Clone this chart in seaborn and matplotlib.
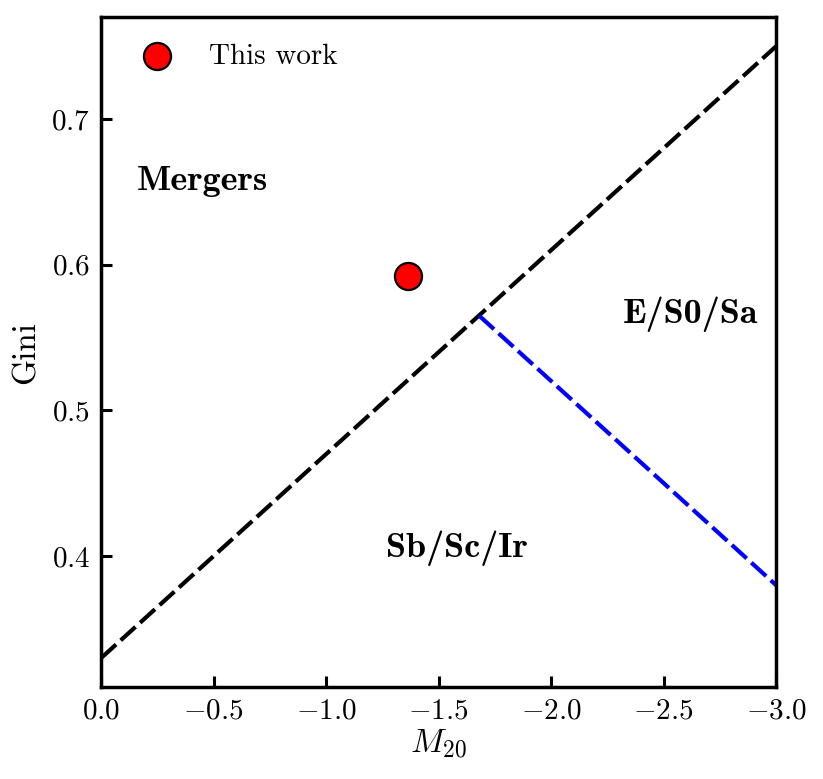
import numpy as np
import pandas as pd
import matplotlib
matplotlib.use("Agg")
import matplotlib.pyplot as plt
from matplotlib.ticker import FuncFormatter, MultipleLocator
import seaborn as sns

# merger line: G = -0.14 M20 + 0.33 ; E/S0/Sa vs Sb/Sc/Ir: G = 0.14 M20 + 0.80
merger_m20 = [0.0, -3.0]
merger_gini = [0.33, 0.75]
class_m20 = [-1.68, -3.0]
class_gini = [0.565, 0.38]

# this work
obj_m20 = [-1.364]
obj_gini = [0.592]

region_names = ["Mergers", "E/S0/Sa", "Sb/Sc/Ir"]
region_x = [-0.45, -2.62, -1.58]
region_y = [0.657, 0.566, 0.405]

sns.set_style("ticks")
plt.rcParams["mathtext.fontset"] = "cm"
plt.rcParams["font.family"] = ["cmr10", "DejaVu Serif"]
plt.rcParams["text.color"] = "black"
plt.rcParams["axes.labelcolor"] = "black"
plt.rcParams["xtick.color"] = "black"
plt.rcParams["ytick.color"] = "black"
plt.rcParams["axes.edgecolor"] = "black"

fig, ax = plt.subplots(figsize=(8.23, 7.79), dpi=100)
fig.subplots_adjust(left=0.123, right=0.943, top=0.978, bottom=0.118)

dash = (0, (4.8, 1.5))
sns.lineplot(x=merger_m20, y=merger_gini, ax=ax, color="black", lw=3.0,
             linestyle=dash, sort=False)
sns.lineplot(x=class_m20, y=class_gini, ax=ax, color="blue", lw=3.0,
             linestyle=dash, sort=False)
sns.scatterplot(x=obj_m20, y=obj_gini, ax=ax, s=380, color="red",
                edgecolor="black", linewidth=1.6, label="This work",
                zorder=5)

for name, x, y in zip(region_names, region_x, region_y):
    ax.text(x, y, name, fontsize=26, ha="center", va="center",
            family=["cmb10", "DejaVu Serif"])

ax.set_xlim(0, -3)
ax.set_ylim(0.31, 0.77)
ax.xaxis.set_major_locator(MultipleLocator(0.5))
ax.yaxis.set_major_locator(MultipleLocator(0.1))
ax.xaxis.set_major_formatter(FuncFormatter(lambda v, p: f"${v:.1f}$"))
ax.yaxis.set_major_formatter(FuncFormatter(lambda v, p: f"${v:.1f}$"))
ax.tick_params(direction="in", length=8, width=2.2, labelsize=21, pad=8)
for sp in ax.spines.values():
    sp.set_linewidth(2.5)

ax.set_xlabel(r"$M_{20}$", fontsize=24, labelpad=2)
ax.set_ylabel("Gini", fontsize=24, labelpad=8)

ax.legend(loc="upper left", frameon=False, fontsize=21, handletextpad=0.8)

fig.savefig("out.png", dpi=100)
